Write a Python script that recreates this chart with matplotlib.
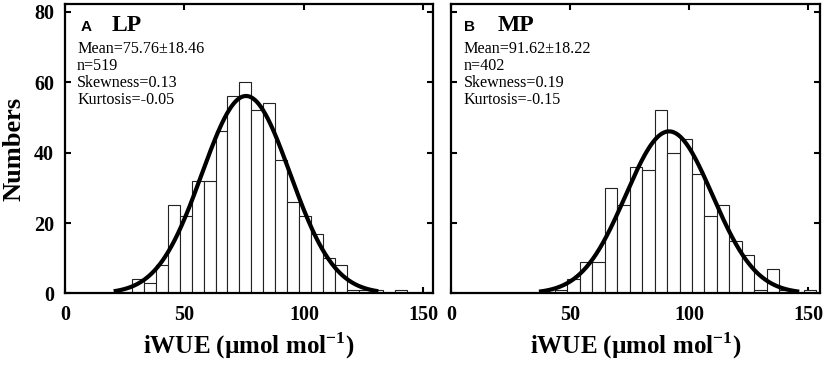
import numpy as np
import matplotlib
matplotlib.use("Agg")
import matplotlib.pyplot as plt

plt.rcParams['font.family'] = ['Liberation Serif', 'DejaVu Serif']
plt.rcParams['mathtext.fontset'] = 'custom'
plt.rcParams['mathtext.rm'] = 'Liberation Serif'
plt.rcParams['mathtext.bf'] = 'Liberation Serif:bold'

# ---- data ----
lp_bin_start = 28.0
lp_bin_width = 5.0
lp_counts = [4, 3, 8, 25, 22, 32, 32, 46, 56, 60, 52, 54, 38, 26, 22, 17, 10, 8, 1, 1, 1, 0, 1]
lp_mean, lp_sd, lp_n = 75.76, 18.46, 519
lp_skew, lp_kurt = 0.13, -0.05

mp_bin_start = 43.7
mp_bin_width = 5.23
mp_counts = [1, 4, 9, 9, 30, 25, 36, 35, 52, 40, 44, 34, 22, 25, 15, 11, 1, 7, 1, 0, 1]
mp_mean, mp_sd, mp_n = 91.62, 18.22, 402
mp_skew, mp_kurt = 0.19, -0.15

panel_letters = ['A', 'B']
panel_names = ['LP', 'MP']
x_ticks = [0, 50, 100, 150]
y_ticks = [0, 20, 40, 60, 80]
x_label = r'iWUE (µmol mol$^{\mathbf{-1}}$)'
y_label = 'Numbers'

fig = plt.figure(figsize=(8.29, 3.70), dpi=100)
ax1 = fig.add_axes([0.0784, 0.2068, 0.4439, 0.7824])
ax2 = fig.add_axes([0.5440, 0.2068, 0.4451, 0.7824])

panels = [
    (ax1, lp_bin_start, lp_bin_width, lp_counts, lp_mean, lp_sd, lp_n, lp_skew, lp_kurt, 154),
    (ax2, mp_bin_start, mp_bin_width, mp_counts, mp_mean, mp_sd, mp_n, mp_skew, mp_kurt, 155),
]

for i, (ax, b0, bw, counts, mu, sd, n, sk, ku, xmax) in enumerate(panels):
    edges = b0 + bw * np.arange(len(counts))
    ax.bar(edges, counts, width=bw, align='edge', color='white',
           edgecolor='#222222', linewidth=0.8, zorder=2)
    xs = np.linspace(mu - 3 * sd, mu + 3 * sd, 400)
    ys = n * bw / (sd * np.sqrt(2 * np.pi)) * np.exp(-0.5 * ((xs - mu) / sd) ** 2)
    ax.plot(xs, ys, color='black', linewidth=3, zorder=3, solid_capstyle='butt')
    ax.set_xlim(0, xmax)
    ax.set_ylim(0, 82.2)
    ax.set_xticks(x_ticks)
    ax.set_yticks(y_ticks)
    ax.tick_params(direction='in', top=True, right=True, length=4, width=1.5,
                   labelsize=14.5, pad=8)
    for lab in ax.get_xticklabels() + ax.get_yticklabels():
        lab.set_fontweight('bold')
    for s in ax.spines.values():
        s.set_linewidth(1.6)
    ax.set_xlabel(x_label, fontsize=18, fontweight='bold', labelpad=4)

    lx = 0.043 if i == 0 else 0.035
    ax.text(lx, 0.908, panel_letters[i], transform=ax.transAxes, fontsize=11,
            fontweight='bold', family='Liberation Sans', va='baseline', ha='left')
    ax.text(0.127, 0.908, panel_names[i], transform=ax.transAxes, fontsize=17,
            fontweight='bold', va='baseline', ha='left')
    sx = 0.033 if i == 0 else 0.035
    lines = [f'Mean={mu:.2f}±{sd:.2f}', f'n={n}', f'Skewness={sk:.2f}', f'Kurtosis={ku:.2f}']
    for j, t in enumerate(lines):
        ax.text(sx, 0.830 - j * 0.0588, t, transform=ax.transAxes, fontsize=11.6,
                va='baseline', ha='left')

ax2.set_yticklabels([])
ax1.set_ylabel(y_label, fontsize=19, fontweight='bold', labelpad=6)

fig.savefig('out.png', dpi=100)
